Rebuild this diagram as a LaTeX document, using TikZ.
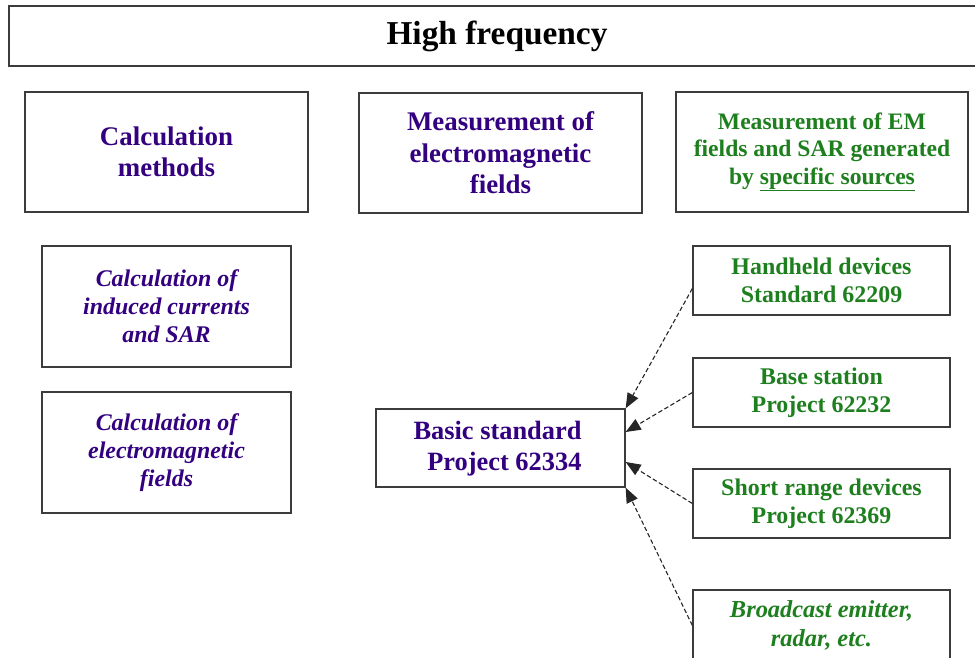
\documentclass[tikz,border=0pt]{standalone}
\usepackage{fontspec}
\setmainfont{Liberation Serif}
\usetikzlibrary{arrows.meta}
\definecolor{purp}{HTML}{330080}
\definecolor{grn}{HTML}{1E7F1E}
\definecolor{edge}{HTML}{3C3C3C}
\tikzset{
  box/.style={draw=edge, line width=1.3bp, fill=white, inner sep=0pt, align=center},
  bigp/.style={box, text=purp, font={\fontsize{27}{31.5}\selectfont\bfseries}},
  itp/.style={box, text=purp, font={\fontsize{24}{28}\selectfont\bfseries\itshape}},
  gtop/.style={box, text=grn, font={\fontsize{23.7}{27.5}\selectfont\bfseries}},
  gsrc/.style={box, text=grn, font={\fontsize{24}{28}\selectfont\bfseries}},
  gsrcit/.style={box, text=grn, font={\fontsize{24.5}{29}\selectfont\bfseries\itshape}},
  link/.style={draw=black!85, line width=1.1bp, dash pattern=on 4.5bp off 2.5bp, -{Triangle[length=15bp,width=12bp]}}
}
\begin{document}
\begin{tikzpicture}[x=1bp,y=-1bp]
\useasboundingbox (0,0) rectangle (975,658);
\node[box, minimum width=976bp, minimum height=60bp, font={\fontsize{33.5}{40}\selectfont\bfseries}] (title) at (497,36) {High frequency};
\node[bigp, minimum width=283bp, minimum height=120bp] (cm) at (166.5,152) {Calculation\\methods};
\node[bigp, minimum width=283bp, minimum height=120bp] (mem) at (500.5,153) {Measurement of\\electromagnetic\\fields};
\node[gtop, minimum width=292bp, minimum height=120bp] (msr) at (822,152) {Measurement of EM\\fields and SAR generated\\by \underline{specific sources}};
\node[itp, minimum width=249bp, minimum height=121bp] (ic) at (166.5,306.5) {Calculation of\\induced currents\\and SAR};
\node[itp, minimum width=249bp, minimum height=121bp] (cf) at (166.5,452.5) {Calculation of\\electromagnetic\\fields};
\node[box, minimum width=249bp, minimum height=78bp] (bs) at (500.5,448) {};
\node[text=purp, font={\fontsize{26.5}{31}\selectfont\bfseries}, align=right, inner sep=0pt] (bstext) at (497.5,449) {Basic standard\\Project 62334};
\node[gsrc, minimum width=257bp, minimum height=69bp] (hh) at (821.5,280.5) {Handheld devices\\Standard 62209};
\node[gsrc, minimum width=257bp, minimum height=69bp] (bst) at (821.5,392.5) {Base station\\Project 62232};
\node[gsrc, minimum width=257bp, minimum height=69bp] (sr) at (821.5,503.5) {Short range devices\\Project 62369};
\node[gsrcit, minimum width=257bp, minimum height=71bp] (be) at (821.5,625.5) {Broadcast emitter,\\radar, etc.};
\draw[link] ([yshift=-8bp]hh.west) -- (bs.north east);
\draw[link] (bst.west) -- ([yshift=16bp]bs.east);
\draw[link] (sr.west) -- ([yshift=-14bp]bs.east);
\draw[link] (be.west) -- (bs.south east);
\end{tikzpicture}
\end{document}
